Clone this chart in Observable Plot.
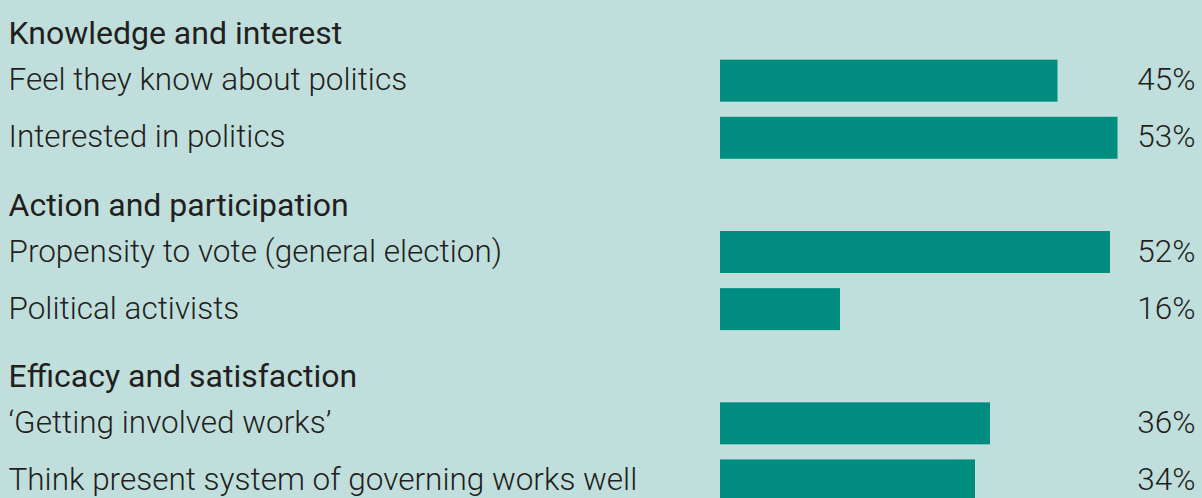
<!DOCTYPE html>
<html>
<head>
<meta charset="utf-8">
<script src="https://cdn.jsdelivr.net/npm/d3@7"></script>
<script src="https://cdn.jsdelivr.net/npm/@observablehq/plot@0.6"></script>
<style>
  html, body { margin: 0; padding: 0; overflow: hidden; background: #c0dfdc; }
  #chart svg { display: block; }
</style>
</head>
<body>
<div id="chart"></div>
<script>
const groups = ["Knowledge and interest", "Action and participation", "Efficacy and satisfaction"];
const items = [
  "Feel they know about politics",
  "Interested in politics",
  "Propensity to vote (general election)",
  "Political activists",
  "‘Getting involved works’",
  "Think present system of governing works well"
];
const values = [45, 53, 52, 16, 36, 34];
const itemGroup = [0, 0, 1, 1, 2, 2];

// Build row table: each group header followed by its items
const rows = [];
groups.forEach((g, gi) => {
  rows.push({key: "H:" + g, label: g, header: true});
  items.forEach((it, i) => {
    if (itemGroup[i] === gi) rows.push({key: "I:" + it, label: it, header: false, value: values[i]});
  });
});
const headerRows = rows.filter(d => d.header);
const itemRows = rows.filter(d => !d.header);

const W = 1202, H = 509;
const font = "Roboto, 'Liberation Sans', sans-serif";

const chart = Plot.plot({
  width: W,
  height: H,
  margin: 0,
  style: {background: "transparent", fontFamily: font, color: "#231f20"},
  x: {domain: [0, 60], range: [720, 1170], axis: null},
  y: {domain: rows.map(d => d.key), range: [-5, 509], paddingInner: 0.265, paddingOuter: 0.1325, round: false, axis: null},
  marks: [
    Plot.barX(itemRows, {x: "value", y: "key", fill: "#008c7e"}),
    Plot.text(itemRows, {y: "key", text: "label", frameAnchor: "left", dx: 8, dy: -1, textAnchor: "start", fontSize: 31.5, fontWeight: 300, fill: "#231f20"}),
    Plot.text(headerRows, {y: "key", text: "label", frameAnchor: "left", dx: 8, dy: 10, textAnchor: "start", fontSize: 32, fontWeight: 400, fill: "#231f20"}),
    Plot.text(itemRows, {y: "key", text: d => d.value + "%", frameAnchor: "right", dx: -7, dy: -1, textAnchor: "end", fontSize: 31.5, fontWeight: 300, fill: "#231f20"})
  ]
});
document.getElementById("chart").appendChild(chart);
</script>
</body>
</html>
